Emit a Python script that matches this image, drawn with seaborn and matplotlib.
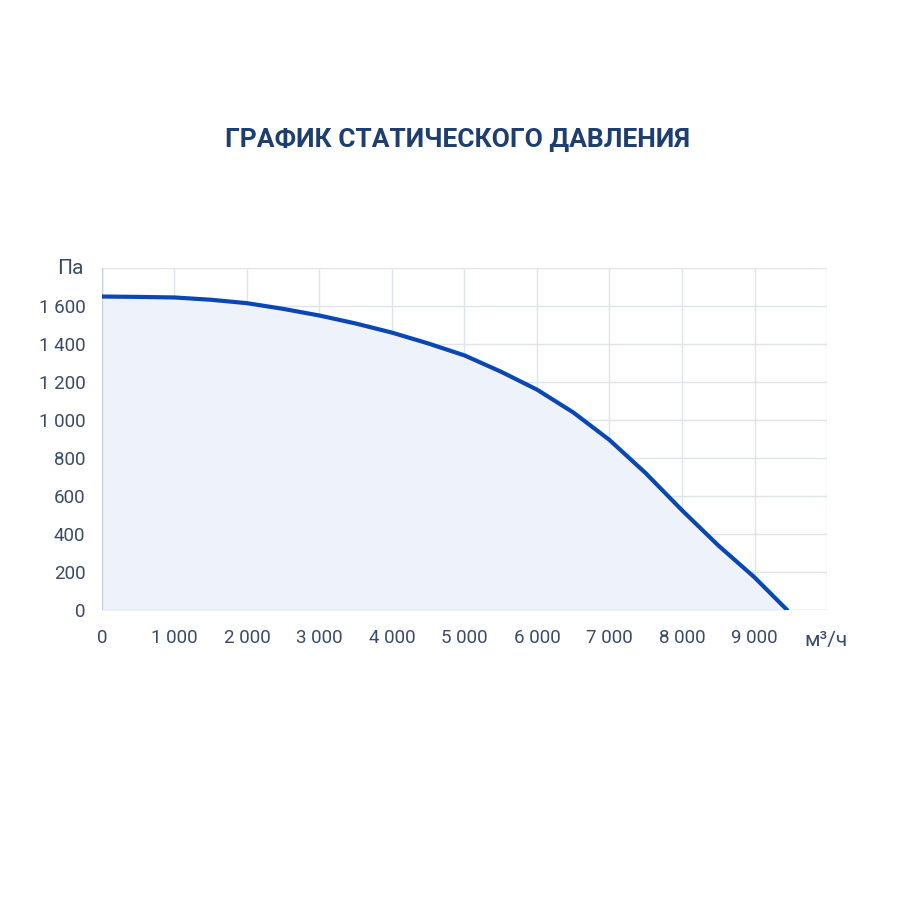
import matplotlib
matplotlib.use("Agg")
import matplotlib.pyplot as plt
import pandas as pd
import seaborn as sns

# flow (m3/h) and static pressure (Pa)
flow = [0, 500, 1000, 1500, 2000, 2500, 3000, 3500, 4000, 4500, 5000,
        5500, 6000, 6500, 7000, 7500, 8000, 8500, 9000, 9450]
pressure = [1650, 1648, 1645, 1633, 1615, 1585, 1550, 1508, 1460, 1403, 1340,
            1255, 1160, 1040, 895, 720, 525, 340, 172, 0]
x_ticks = list(range(0, 10001, 1000))
y_ticks = list(range(0, 1801, 200))


def fmt(v):
    return f"{v:,}".replace(",", " ")


def main() -> None:
    sns.set_style("white")
    plt.rcParams["font.family"] = ["Roboto", "DejaVu Sans"]
    df = pd.DataFrame({"flow": flow, "pressure": pressure})

    fig = plt.figure(figsize=(9, 9), dpi=100)
    ax = fig.add_axes([0.1133, 0.3222, 0.8056, 0.38])
    ax.fill_between(df["flow"], df["pressure"], color="#eef3fb", zorder=1)
    sns.lineplot(data=df, x="flow", y="pressure", ax=ax, color="#0b47b3",
                 linewidth=3, zorder=3)

    ax.set_xlim(0, 10000)
    ax.set_ylim(0, 1800)
    ax.set_xticks(x_ticks)
    ax.set_xticklabels([fmt(v) if v < 10000 else "" for v in x_ticks])
    ax.set_yticks(y_ticks)
    ax.set_yticklabels([fmt(v) if v < 1800 else "" for v in y_ticks])
    ax.grid(True, color="#dfe3ea", linewidth=1, zorder=0)
    ax.set_axisbelow(True)
    for s in ax.spines.values():
        s.set_visible(False)
    ax.axhline(0, color="#c9cfd9", linewidth=1, zorder=2)
    ax.axvline(0, color="#c9cfd9", linewidth=1, zorder=2)
    ax.tick_params(colors="#3b4a66", labelsize=13.5, length=0)
    ax.tick_params(axis="x", pad=14)
    ax.tick_params(axis="y", pad=12)
    ax.set_xlabel("")
    ax.set_ylabel("")

    fig.text(0.078, 0.702, "Па", fontsize=15, color="#3b4a66", ha="center", va="center")
    fig.text(0.894, 0.288, "м³/ч", fontsize=15, color="#3b4a66", ha="left", va="center")
    fig.text(0.508, 0.844, "ГРАФИК СТАТИЧЕСКОГО ДАВЛЕНИЯ", fontsize=19,
             fontweight="bold", color="#1f3e70", ha="center", va="center")

    fig.savefig("out.png", dpi=100, facecolor="white")
    plt.close(fig)


if __name__ == "__main__":
    main()
